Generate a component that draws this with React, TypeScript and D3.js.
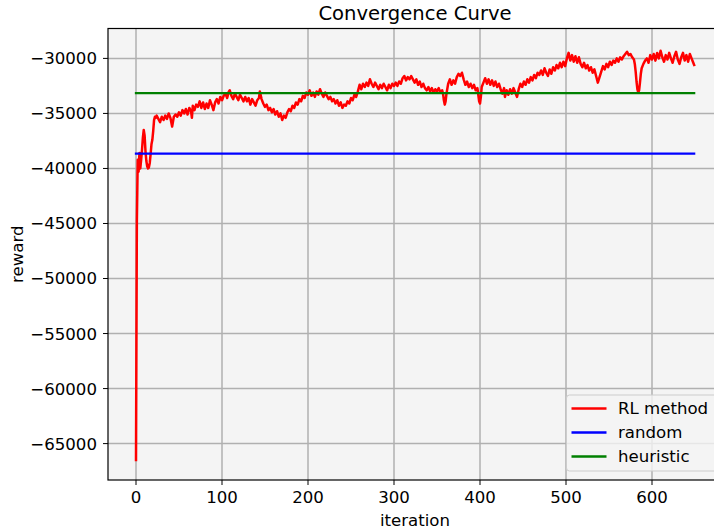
import * as d3 from 'd3';
import React from 'react';

// RL curve (iteration, reward)
const rlIter = [
  0, 1, 2, 3, 4, 5, 6, 7, 8, 9, 10, 11, 12, 13, 14, 15, 16, 17, 18, 19, 20, 21, 22, 23, 24,
  26, 28, 30, 32, 34, 36, 38, 40, 42, 44, 46, 48, 50, 52, 54, 56, 58, 60, 62, 64, 65, 66, 68, 70,
  72, 74, 76, 78, 80, 82, 84, 86, 88, 90, 92, 94, 96, 98, 100,
  102, 104, 106, 108, 109, 111, 113, 115, 117, 119, 121, 123, 125, 127,
  129, 131, 133, 135, 137, 139, 141, 143, 144, 146,
  148, 150, 152, 154, 156, 158, 160, 162, 164, 166, 168, 170, 172,
  174, 176, 178, 180, 182, 184, 186, 188, 190, 192, 194, 196, 198, 200,
  202, 204, 206, 208, 210, 212, 214, 216, 218, 220, 222,
  224, 226, 228, 230, 232, 234, 236, 238, 240, 242,
  244, 246, 248, 250, 252, 254, 256, 258,
  260, 262, 264, 266, 268, 270, 272, 274, 276, 278, 280,
  282, 284, 286, 288, 290, 292, 294, 296, 298, 300, 302, 304, 306, 308,
  310, 312, 314, 316, 318, 320, 322,
  324, 326, 328, 330, 332, 334, 336,
  338, 340, 342, 344, 346, 348, 350, 352, 354, 356,
  357, 358, 359, 360, 361,
  363, 365, 367, 369, 371, 373, 375, 377, 379,
  381, 383, 385, 387, 389, 391, 393, 395,
  397, 398, 399, 400, 401, 402,
  404, 406, 408, 410, 412, 414, 416, 418, 420, 422, 424,
  426, 428, 429, 431, 433, 435, 437, 439, 441, 443, 445,
  447, 449, 451, 453, 455, 457, 459, 461, 463, 465, 467, 469, 471,
  473, 475, 477, 479, 481, 483, 485,
  487, 489, 491, 493, 495, 497, 499,
  501, 503, 505, 507, 509, 511, 513, 515, 517,
  519, 521, 523, 525, 527, 529, 531, 533, 535, 537, 539,
  541, 543, 545, 547, 549, 551, 553, 555, 557, 559, 561, 563, 565,
  567, 569, 571, 573, 575, 577, 579,
  580, 581, 582, 583, 584, 585, 586, 587, 588, 590, 592, 594,
  596, 598, 600, 602, 604, 606, 608, 610, 612, 614, 616, 618, 620, 622, 624, 626, 628, 630,
  632, 634, 636, 638, 640, 642, 644, 646, 648, 649,
];
const rlReward = [
  -66500, -44800, -39200, -40300, -38600, -40000, -39200, -38300, -37200, -36500, -37000, -38400, -39300, -39800, -40000, -39900, -39500, -38700, -37800, -37400, -36600, -35600, -35300, -35400, -35200,
  -35500, -35800, -35300, -35600, -35200, -35500, -35000, -35400, -36200, -35300, -35100, -35300, -34900, -35200, -34700, -35000, -34600, -35100, -34500, -34800, -35400, -34300, -34700, -34200,
  -34400, -33900, -34500, -34000, -34600, -34100, -34500, -33800, -34200, -34700, -34000, -33700, -34100, -33500, -33800,
  -33400, -33200, -33600, -33000, -32900, -33400, -33700, -33200, -33500, -33800, -33300, -33600, -33900, -33500,
  -33900, -33600, -34200, -33700, -34000, -34300, -33800, -33600, -33000, -33700,
  -34100, -34400, -34200, -34700, -34500, -34900, -34600, -35100, -34800, -35300, -35000, -35600, -35200,
  -35400, -34900, -34600, -34800, -34300, -34500, -34000, -34200, -33700, -33900, -33400, -33600, -33100, -33300,
  -32900, -33400, -33100, -33500, -33000, -33300, -32800, -33200, -33500, -33100, -33400,
  -33700, -33500, -33900, -33700, -34100, -33800, -34300, -34000, -34500, -34200,
  -34300, -33900, -34100, -33600, -33800, -33300, -33500, -33000,
  -32400, -32800, -32300, -32600, -32200, -32500, -31900, -32300, -32600, -32200, -32500,
  -32800, -32400, -32700, -32300, -32600, -32900, -32400, -32700, -32300, -32500, -32200, -32500, -32100, -32300,
  -31800, -31600, -32000, -31700, -31900, -31600, -31900,
  -32200, -31900, -32400, -32100, -32600, -32300, -32700,
  -32900, -32600, -33000, -32700, -33100, -32800, -33000, -32700, -33100, -32900,
  -33200, -33800, -34200, -33900, -33200,
  -32300, -31900, -32400, -32000, -32300, -31700, -31400, -31600, -31300,
  -31900, -32400, -32100, -32600, -32300, -32700, -32400, -32900,
  -32700, -33300, -33900, -34100, -33500, -32600,
  -32200, -31800, -32300, -31900, -32400, -32000, -32500, -32100, -32600, -32300, -32800,
  -33200, -32700, -33500, -32900, -33300, -32800, -33200, -32700, -33100, -33500, -32800,
  -32300, -32600, -32100, -32400, -31900, -32200, -31700, -32000, -31500, -31800, -31300, -31500, -31100,
  -31500, -30900, -31300, -31600, -31000, -31400, -30800,
  -31100, -30600, -30900, -30400, -30800, -30300, -30700,
  -30000, -29500, -30200, -29700, -30300, -29800, -30400, -29900, -30500,
  -30800, -30400, -30900, -30600, -31100, -30800, -31300, -31000, -31600, -32200, -31700,
  -31200, -30700, -31000, -30500, -30800, -30300, -30600, -30200, -30400, -30000, -30300, -29900, -30100,
  -29800, -29600, -29400, -29700, -29600, -29900, -30100,
  -30500, -31200, -32100, -32800, -33100, -32900, -32200, -31400, -30900, -30500, -30200, -30000,
  -30400, -29700, -30100, -29600, -30200, -29500, -30000, -29300, -29900, -30300, -29700, -30100, -29500, -30000, -30400, -29800, -29400, -30100,
  -30500, -29900, -29500, -30200, -29700, -30300, -29600, -30000, -30400, -30600,
];

// flat baselines
const baselineIter = [0, 649];
const randomReward = -38650;
const heuristicReward = -33150;

const xTicks = [0, 100, 200, 300, 400, 500, 600];
const yTicks = [-65000, -60000, -55000, -50000, -45000, -40000, -35000, -30000];

const seriesNames = ['RL method', 'random', 'heuristic'];
const seriesColors = ['#ff0000', '#0000ff', '#008000'];

export default function App() {
  const width = 714;
  const height = 531;
  // axes box (right spine sits just past the window edge)
  const left = 108, right = 722, top = 28.5, bottom = 480;

  const x = d3.scaleLinear().domain([0, 600]).range([136, 652]);
  const y = d3.scaleLinear().domain([-65000, -30000]).range([443.6, 58.4]);

  const line = d3.line<[number, number]>()
    .x(d => x(d[0]))
    .y(d => y(d[1]));

  const rlPts: [number, number][] = rlIter.map((it, i) => [it, rlReward[i]]);
  const randPts: [number, number][] = baselineIter.map(it => [it, randomReward]);
  const heurPts: [number, number][] = baselineIter.map(it => [it, heuristicReward]);

  const font = 'DejaVu Sans, sans-serif';
  const fs = 16.6;
  const fmt = (v: number) => (v < 0 ? '\u2212' + Math.abs(v) : String(v));

  // legend placement
  const lg = { x: 566.5, y: 395, w: 160, h: 76 };

  return (
    <svg
      width={width}
      height={height}
      style={{ position: 'absolute', left: 0, top: 0, display: 'block', background: '#fff' }}
      fontFamily={font}
    >
      <defs>
        <clipPath id="plot">
          <rect x={left} y={top} width={right - left} height={bottom - top} />
        </clipPath>
      </defs>

      {/* axes background */}
      <rect x={left} y={top} width={right - left} height={bottom - top} fill="#f4f4f4" />

      {/* grid */}
      <g stroke="#b0b0b0" strokeWidth={1.5}>
        {xTicks.map(t => (
          <line key={'gx' + t} x1={x(t)} x2={x(t)} y1={top} y2={bottom} />
        ))}
        {yTicks.map(t => (
          <line key={'gy' + t} x1={left} x2={right} y1={y(t)} y2={y(t)} />
        ))}
      </g>

      {/* data */}
      <g clipPath="url(#plot)" fill="none" strokeLinejoin="round" strokeLinecap="square">
        <path d={line(rlPts) || ''} stroke={seriesColors[0]} strokeWidth={2.5} />
        <path d={line(randPts) || ''} stroke={seriesColors[1]} strokeWidth={2.3} />
        <path d={line(heurPts) || ''} stroke={seriesColors[2]} strokeWidth={2.3} />
      </g>

      {/* spines */}
      <rect x={left} y={top} width={right - left} height={bottom - top} fill="none" stroke="#000" strokeWidth={1.2} />

      {/* x ticks */}
      <g fontSize={fs} textAnchor="middle" fill="#000">
        {xTicks.map(t => (
          <g key={'xt' + t}>
            <line x1={x(t)} x2={x(t)} y1={bottom} y2={bottom + 5} stroke="#000" strokeWidth={1} />
            <text x={x(t)} y={bottom + 23}>{t}</text>
          </g>
        ))}
      </g>

      {/* y ticks */}
      <g fontSize={fs} textAnchor="end" fill="#000">
        {yTicks.map(t => (
          <g key={'yt' + t}>
            <line x1={left - 5} x2={left} y1={y(t)} y2={y(t)} stroke="#000" strokeWidth={1} />
            <text x={left - 11} y={y(t)} dy="0.36em">{fmt(t)}</text>
          </g>
        ))}
      </g>

      {/* titles */}
      <text x={(left + right) / 2} y={20} textAnchor="middle" fontSize={19.6}>Convergence Curve</text>
      <text x={(left + right) / 2} y={526} textAnchor="middle" fontSize={fs}>iteration</text>
      <text transform={`translate(23, ${(top + bottom) / 2}) rotate(-90)`} textAnchor="middle" fontSize={fs}>reward</text>

      {/* legend */}
      <g>
        <rect x={lg.x} y={lg.y} width={lg.w} height={lg.h} rx={3} fill="#f4f4f4" fillOpacity={0.8} stroke="#cccccc" strokeWidth={1} />
        {seriesNames.map((name, i) => {
          const ly = lg.y + 13.5 + i * 24;
          return (
            <g key={name}>
              <line x1={lg.x + 5} x2={lg.x + 40} y1={ly} y2={ly} stroke={seriesColors[i]} strokeWidth={2.3} />
              <text x={lg.x + 51.5} y={ly} dy="0.36em" fontSize={fs}>{name}</text>
            </g>
          );
        })}
      </g>
    </svg>
  );
}
